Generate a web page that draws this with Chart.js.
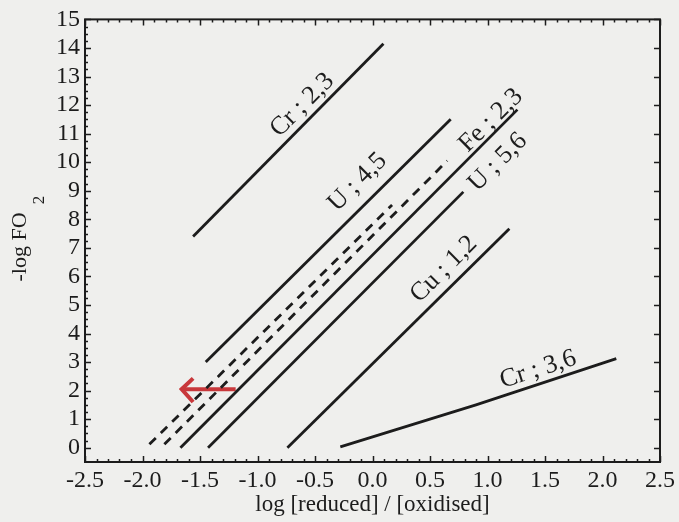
<!DOCTYPE html>
<html>
<head>
<meta charset="utf-8">
<script src="https://cdn.jsdelivr.net/npm/chart.js@4/dist/chart.umd.min.js"></script>
<style>
  html, body { margin: 0; padding: 0; background: #efefed; }
  #wrap { width: 679px; height: 522px; }
</style>
</head>
<body>
<div id="wrap"><canvas id="chart"></canvas></div>
<script>
// ---- data ----
const xTicks = [-2.5, -2.0, -1.5, -1.0, -0.5, 0.0, 0.5, 1.0, 1.5, 2.0, 2.5];
const yTicks = [0, 1, 2, 3, 4, 5, 6, 7, 8, 9, 10, 11, 12, 13, 14, 15];

const cr23 = [{ x: -1.56, y: 7.4 }, { x: 0.095, y: 14.15 }];
const u45 = [{ x: -1.45, y: 3.0 }, { x: 0.68, y: 11.5 }];
const feDashA = [{ x: -1.94, y: 0.12 }, { x: 0.17, y: 8.5 }];
const feDashB = [{ x: -1.81, y: 0.12 }, { x: 0.65, y: 10.05 }];
const fe23 = [{ x: -1.67, y: 0 }, { x: 1.26, y: 11.84 }];
const u56 = [{ x: -1.43, y: 0 }, { x: 0.79, y: 8.96 }];
const cu12 = [{ x: -0.74, y: 0 }, { x: 1.19, y: 7.67 }];
const cr36 = [{ x: -0.28, y: 0.03 }, { x: 0.9, y: 1.5 }, { x: 2.12, y: 3.12 }];

const arrowShaft = [{ x: -1.19, y: 2.05 }, { x: -1.66, y: 2.05 }];
const arrowHead = [{ x: -1.56, y: 2.43 }, { x: -1.66, y: 2.05 }, { x: -1.56, y: 1.6 }];

// line labels: text, anchor (data units), slope of the line in data units
const lineLabels = [
  { text: "Cr ; 2,3", x: -0.61, y: 12.0, slope: 4 },
  { text: "U ; 4,5", x: -0.13, y: 9.3, slope: 4 },
  { text: "Fe ; 2,3", x: 1.03, y: 11.46, slope: 4 },
  { text: "U ; 5,6", x: 1.09, y: 10.0, slope: 4 },
  { text: "Cu ; 1,2", x: 0.62, y: 6.25, slope: 4 },
  { text: "Cr ; 3,6", x: 1.44, y: 2.74, slope: 1.29 }
];

const ink = "#1c1c1c";
const serif = "'Times New Roman', 'Liberation Serif', Times, serif";

const solid = (data) => ({ data, borderColor: ink, borderWidth: 2.8, showLine: true, pointRadius: 0, tension: 0 });
const dashed = (data) => ({ ...solid(data), borderDash: [9, 7] });

// ---- frame, inward ticks, titles and rotated labels ----
const decor = {
  id: "decor",
  afterDraw(chart) {
    const { ctx, chartArea: a, scales: { x, y } } = chart;
    ctx.save();
    ctx.strokeStyle = ink;
    ctx.lineWidth = 2;
    ctx.strokeRect(a.left, a.top, a.right - a.left, a.bottom - a.top);

    ctx.lineWidth = 1.5;
    ctx.beginPath();
    for (let i = 0; i <= 50; i++) {
      const v = -2.5 + i * 0.1;
      const px = Math.round(x.getPixelForValue(v)) + 0.5;
      const len = i % 5 === 0 ? 6 : 3;
      ctx.moveTo(px, a.bottom); ctx.lineTo(px, a.bottom - len);
      ctx.moveTo(px, a.top); ctx.lineTo(px, a.top + len);
    }
    for (let i = 0; i <= 60; i++) {
      const v = i * 0.25;
      const py = Math.round(y.getPixelForValue(v)) + 0.5;
      const major = i % 4 === 0;
      ctx.moveTo(a.left, py); ctx.lineTo(a.left + (major ? 6 : 3), py);
      if (major) { ctx.moveTo(a.right, py); ctx.lineTo(a.right - 6, py); }
    }
    ctx.stroke();

    ctx.fillStyle = ink;
    // x title
    ctx.font = "23px " + serif;
    ctx.textAlign = "center";
    ctx.textBaseline = "middle";
    ctx.fillText("log [reduced] / [oxidised]", (a.left + a.right) / 2, 505);

    // y title with subscript
    ctx.save();
    ctx.translate(20, 247);
    ctx.rotate(-Math.PI / 2);
    ctx.font = "22px " + serif;
    ctx.fillText("-log FO", 0, 0);
    ctx.restore();
    ctx.save();
    ctx.translate(40, 200);
    ctx.rotate(-Math.PI / 2);
    ctx.font = "17px " + serif;
    ctx.fillText("2", 0, 0);
    ctx.restore();

    // labels along the lines
    ctx.font = "26px " + serif;
    lineLabels.forEach(l => {
      const dx = x.getPixelForValue(1) - x.getPixelForValue(0);
      const dy = y.getPixelForValue(l.slope) - y.getPixelForValue(0);
      ctx.save();
      ctx.translate(x.getPixelForValue(l.x), y.getPixelForValue(l.y));
      ctx.rotate(Math.atan2(dy, dx));
      ctx.fillText(l.text, 0, 0);
      ctx.restore();
    });
    ctx.restore();
  }
};

new Chart(document.getElementById("chart"), {
  type: "scatter",
  data: {
    datasets: [
      solid(cr23),
      solid(u45),
      dashed(feDashA),
      dashed(feDashB),
      solid(fe23),
      solid(u56),
      solid(cu12),
      solid(cr36),
      { ...solid(arrowShaft), borderColor: "#c8383b", borderWidth: 4 },
      { ...solid(arrowHead), borderColor: "#c8383b", borderWidth: 4 }
    ]
  },
  options: {
    responsive: true,
    maintainAspectRatio: false,
    animation: false,
    layout: { padding: { top: 16, right: 16, left: 0, bottom: 0 } },
    plugins: { legend: { display: false }, tooltip: { enabled: false } },
    scales: {
      x: {
        type: "linear",
        min: -2.5,
        max: 2.5,
        grid: { display: false, drawTicks: false },
        border: { display: false },
        afterBuildTicks: s => { s.ticks = xTicks.map(v => ({ value: v })); },
        afterFit: s => { s.height = 60; },
        ticks: {
          color: ink,
          padding: 4,
          maxRotation: 0,
          autoSkip: false,
          font: { family: serif, size: 24 },
          callback: v => v.toFixed(1)
        }
      },
      y: {
        type: "linear",
        min: -0.5,
        max: 15,
        grid: { display: false, drawTicks: false },
        border: { display: false },
        afterBuildTicks: s => { s.ticks = yTicks.map(v => ({ value: v })); },
        afterFit: s => { s.width = 85; },
        ticks: {
          color: ink,
          padding: 5,
          autoSkip: false,
          font: { family: serif, size: 24 },
          callback: v => String(v)
        }
      }
    }
  },
  plugins: [decor]
});
</script>
</body>
</html>
